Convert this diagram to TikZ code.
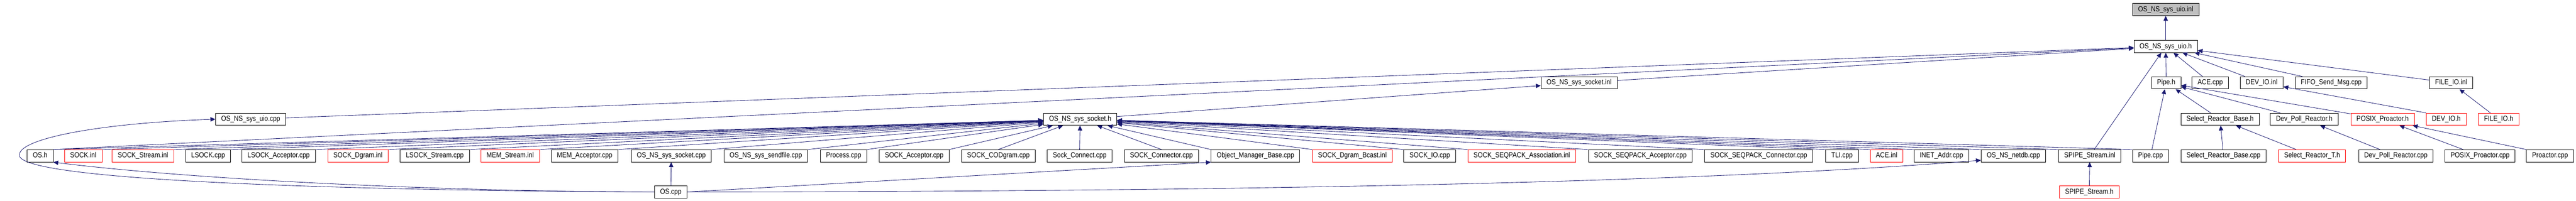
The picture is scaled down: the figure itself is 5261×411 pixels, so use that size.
\documentclass[tikz,border=0pt]{standalone}
\usepackage{fontspec}
\newfontfamily\dotfont[FakeStretch=0.87]{Liberation Sans}
\usepackage{tikz}
\usetikzlibrary{calc}
\usetikzlibrary{arrows.meta}
\definecolor{edgeblue}{HTML}{191970}
\definecolor{hdrgray}{HTML}{BFBFBF}
\tikzset{
  filebox/.style={draw=black, fill=white, line width=1pt, inner xsep=11.5pt, inner ysep=0pt,
    minimum height=25pt, text height=11pt, text depth=3pt, font=\dotfont\fontsize{15}{18}\selectfont},
  redbox/.style={filebox, draw=red},
  graybox/.style={filebox, fill=hdrgray},
  incl/.style={draw=edgeblue, line width=0.9pt, -{Triangle[length=10pt,width=9pt,fill=edgeblue]}}
}
\newcommand{\fnode}[5]{\node[#5] (#1) at ( #2 , #3 ) {#4};}
\newcommand{\inc}[2]{\draw[incl] (#1) -- (#2);}

\begin{document}
\begin{tikzpicture}[x=1pt, y=-1pt]
        \useasboundingbox (0,0) rectangle (5261,411);
        % row 1
        \fnode{uioinl}{4423}{19.5}{OS\_NS\_sys\_uio.inl}{graybox}
        % row 2
        \fnode{uioh}{4423}{95}{OS\_NS\_sys\_uio.h}{filebox}
        % row 3
        \fnode{socketinl}{3225}{169.5}{OS\_NS\_sys\_socket.inl}{filebox}
        \fnode{pipeh}{4424}{169.5}{Pipe.h}{filebox}
        \fnode{acecpp}{4514}{169.5}{ACE.cpp}{filebox}
        \fnode{devioinl}{4619}{169.5}{DEV\_IO.inl}{filebox}
        \fnode{fifocpp}{4761}{169.5}{FIFO\_Send\_Msg.cpp}{filebox}
        \fnode{fileioinl}{5006}{169.5}{FILE\_IO.inl}{filebox}
        % row 4
        \fnode{uiocpp}{512}{244}{OS\_NS\_sys\_uio.cpp}{filebox}
        \fnode{socketh}{2206}{244}{OS\_NS\_sys\_socket.h}{filebox}
        \fnode{selbaseh}{4534}{244}{Select\_Reactor\_Base.h}{filebox}
        \fnode{devpollh}{4706}{244}{Dev\_Poll\_Reactor.h}{filebox}
        \fnode{posixh}{4866}{244}{POSIX\_Proactor.h}{redbox}
        \fnode{devioh}{4996}{244}{DEV\_IO.h}{redbox}
        \fnode{fileioh}{5103}{244}{FILE\_IO.h}{redbox}
        % row 5
        \fnode{osh}{82}{319}{OS.h}{filebox}
        \fnode{sockinl}{170}{319}{SOCK.inl}{redbox}
        \fnode{sockstreaminl}{292}{319}{SOCK\_Stream.inl}{redbox}
        \fnode{lsockcpp}{425}{319}{LSOCK.cpp}{filebox}
        \fnode{lsockacccpp}{569}{319}{LSOCK\_Acceptor.cpp}{filebox}
        \fnode{sockdgraminl}{731}{319}{SOCK\_Dgram.inl}{redbox}
        \fnode{lsockstreamcpp}{888}{319}{LSOCK\_Stream.cpp}{filebox}
        \fnode{memstreaminl}{1042}{319}{MEM\_Stream.inl}{redbox}
        \fnode{memacccpp}{1194}{319}{MEM\_Acceptor.cpp}{filebox}
        \fnode{socketcpp}{1371}{319}{OS\_NS\_sys\_socket.cpp}{filebox}
        \fnode{sendfilecpp}{1564}{319}{OS\_NS\_sys\_sendfile.cpp}{filebox}
        \fnode{processcpp}{1723}{319}{Process.cpp}{filebox}
        \fnode{sockacccpp}{1867}{319}{SOCK\_Acceptor.cpp}{filebox}
        \fnode{sockcodgramcpp}{2039}{319}{SOCK\_CODgram.cpp}{filebox}
        \fnode{sockconnectcpp}{2205}{319}{Sock\_Connect.cpp}{filebox}
        \fnode{sockconncpp}{2372}{319}{SOCK\_Connector.cpp}{filebox}
        \fnode{ombcpp}{2564}{319}{Object\_Manager\_Base.cpp}{filebox}
        \fnode{sockbcastinl}{2762}{319}{SOCK\_Dgram\_Bcast.inl}{redbox}
        \fnode{sockiocpp}{2920}{319}{SOCK\_IO.cpp}{filebox}
        \fnode{seqassocinl}{3108}{319}{SOCK\_SEQPACK\_Association.inl}{redbox}
        \fnode{seqacccpp}{3350}{319}{SOCK\_SEQPACK\_Acceptor.cpp}{filebox}
        \fnode{seqconncpp}{3592}{319}{SOCK\_SEQPACK\_Connector.cpp}{filebox}
        \fnode{tlicpp}{3762}{319}{TLI.cpp}{filebox}
        \fnode{aceinl}{3853}{319}{ACE.inl}{redbox}
        \fnode{inetcpp}{3965}{319}{INET\_Addr.cpp}{filebox}
        \fnode{netdbcpp}{4112}{319}{OS\_NS\_netdb.cpp}{filebox}
        \fnode{spipeinl}{4268}{319}{SPIPE\_Stream.inl}{filebox}
        \fnode{pipecpp}{4392}{319}{Pipe.cpp}{filebox}
        \fnode{selbasecpp}{4541}{319}{Select\_Reactor\_Base.cpp}{filebox}
        \fnode{seltemplh}{4722}{319}{Select\_Reactor\_T.h}{redbox}
        \fnode{devpollcpp}{4893}{319}{Dev\_Poll\_Reactor.cpp}{filebox}
        \fnode{posixcpp}{5065}{319}{POSIX\_Proactor.cpp}{filebox}
        \fnode{proactorcpp}{5208}{319}{Proactor.cpp}{filebox}
        % row 6
        \fnode{oscpp}{1370}{393}{OS.cpp}{filebox}
        \fnode{spipeh}{4267}{393}{SPIPE\_Stream.h}{redbox}

        % into OS_NS_sys_uio.inl / OS_NS_sys_uio.h
        \inc{uioh}{uioinl}
        \inc{osh.north east}{uioh}
        \inc{uiocpp}{uioh}
        \inc{socketinl}{uioh}
        \inc{spipeinl}{uioh}
        \inc{pipeh}{uioh}
        \inc{acecpp}{uioh}
        \inc{devioinl}{uioh}
        \inc{fifocpp}{uioh}
        \inc{fileioinl}{uioh}
        \inc{socketh}{socketinl}
        % into OS_NS_sys_socket.h
        \inc{osh.north east}{socketh}
        \inc{sockinl.north east}{socketh}
        \inc{sockstreaminl.north east}{socketh}
        \inc{lsockcpp.north east}{socketh}
        \inc{lsockacccpp.north east}{socketh}
        \inc{sockdgraminl.north east}{socketh}
        \inc{lsockstreamcpp.north east}{socketh}
        \inc{memstreaminl.north east}{socketh}
        \inc{memacccpp.north east}{socketh}
        \inc{socketcpp.north east}{socketh}
        \inc{sendfilecpp.north east}{socketh}
        \inc{processcpp.north east}{socketh}
        \inc{sockacccpp.north east}{socketh}
        \inc{sockcodgramcpp.north}{socketh}
        \inc{sockconnectcpp.north}{socketh}
        \inc{sockconncpp.north}{socketh}
        \inc{ombcpp.north west}{socketh}
        \inc{sockbcastinl.north west}{socketh}
        \inc{sockiocpp.north west}{socketh}
        \inc{seqassocinl.north west}{socketh}
        \inc{seqacccpp.north west}{socketh}
        \inc{seqconncpp.north west}{socketh}
        \inc{tlicpp.north west}{socketh}
        \inc{aceinl.north west}{socketh}
        \inc{inetcpp.north west}{socketh}
        \inc{netdbcpp.north west}{socketh}
        \inc{spipeinl.north west}{socketh}
        \inc{pipecpp.north west}{socketh}
        % into Pipe.h and the IO headers
        \inc{pipecpp}{pipeh}
        \inc{selbaseh}{pipeh}
        \inc{devpollh}{pipeh}
        \inc{posixh}{pipeh}
        \inc{devioh.north west}{devioinl}
        \inc{fileioh}{fileioinl}
        % reactor and proactor row
        \inc{selbasecpp}{selbaseh}
        \inc{seltemplh}{selbaseh}
        \inc{devpollcpp}{devpollh}
        \inc{posixcpp}{posixh}
        \inc{proactorcpp.north west}{posixh}
        \inc{spipeh}{spipeinl}
        % OS.cpp
        \inc{oscpp}{socketcpp}
        \inc{oscpp.east}{ombcpp.south west}
        \draw[incl] (oscpp.west) .. controls (900,392) and (400,368) .. (osh.south east);
        \draw[incl] (oscpp.west) .. controls (700,390) and (60,370) .. (40,320) .. controls (30,285) and (200,252) .. (uiocpp.west);
        \draw[incl] (oscpp.east) .. controls (2600,392) and (3500,372) .. ([yshift=4pt]netdbcpp.south west);
\end{tikzpicture}
\end{document}
